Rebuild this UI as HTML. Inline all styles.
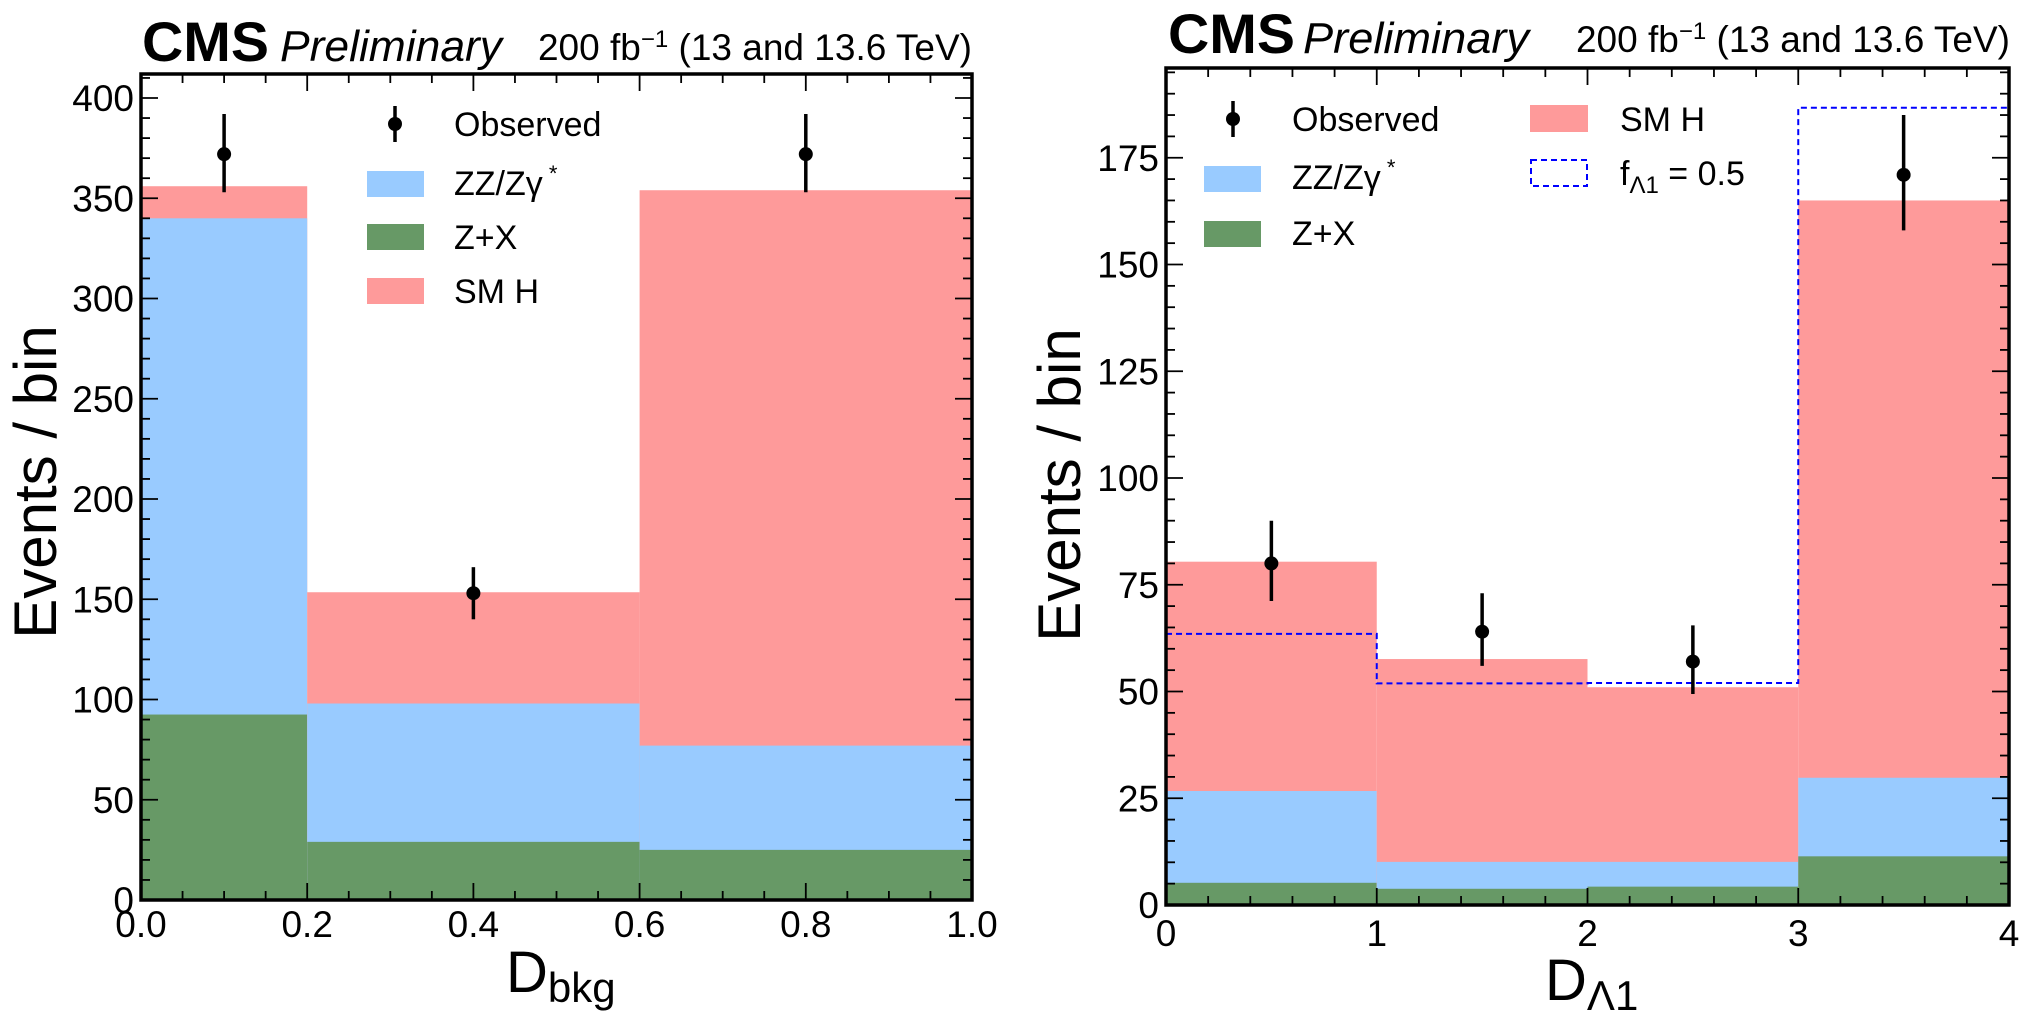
<!DOCTYPE html>
<html><head><meta charset="utf-8">
<style>
html,body{margin:0;padding:0;background:#fff;}
svg{display:block;font-family:"Liberation Sans",Arial,sans-serif;}
</style></head>
<body>
<svg id="chart" width="2032" height="1030" viewBox="0 0 2032 1030" xmlns="http://www.w3.org/2000/svg"></svg>
<script>
// ---- Left panel data (D_bkg) ----
const leftEdges = [0, 0.2, 0.6, 1.0];
const leftZX = [92.5, 29, 25];
const leftZZ = [340, 98, 77];
const leftTotal = [356, 153.5, 354];
const leftObsX = [0.1, 0.4, 0.8];
const leftObs = [372, 153, 372];
const leftObsLo = [353, 140, 353];
const leftObsHi = [392, 166, 392];
const leftXTicks = [0, 0.2, 0.4, 0.6, 0.8, 1.0];
const leftXTickLabels = ["0.0", "0.2", "0.4", "0.6", "0.8", "1.0"];
const leftYTicks = [0, 50, 100, 150, 200, 250, 300, 350, 400];

// ---- Right panel data (D_Lambda1) ----
const rightEdges = [0, 1, 2, 3, 4];
const rightZX = [5.2, 3.8, 4.3, 11.4];
const rightZZ = [26.7, 10.1, 10.1, 29.8];
const rightTotal = [80.4, 57.6, 51, 165];
const rightAlt = [63.5, 51.9, 52, 186.7];
const rightObsX = [0.5, 1.5, 2.5, 3.5];
const rightObs = [80, 64, 57, 171];
const rightObsLo = [71.2, 56, 49.4, 158];
const rightObsHi = [90, 73, 65.5, 185];
const rightXTicks = [0, 1, 2, 3, 4];
const rightXTickLabels = ["0", "1", "2", "3", "4"];
const rightYTicks = [0, 25, 50, 75, 100, 125, 150, 175];

const NS = "http://www.w3.org/2000/svg";
const svg = document.getElementById("chart");
const C_ZZ = "#99cbff", C_ZX = "#679966", C_H = "#fe9a9a";

function mk(tag, attrs, parent, text) {
  const e = document.createElementNS(NS, tag);
  for (const k in attrs) e.setAttribute(k, attrs[k]);
  if (text !== undefined) e.textContent = text;
  (parent || svg).appendChild(e);
  return e;
}

function panel(cfg) {
  const g = mk("g", {});
  
  
  const X = v => cfg.x0 + (v - cfg.xmin) / (cfg.xmax - cfg.xmin) * (cfg.x1 - cfg.x0);
  const Y = v => cfg.yb - (v - 0) * cfg.pxu;
  const nb = cfg.edges.length - 1;
  for (let i = 0; i < nb; i++) {
    const xa = X(cfg.edges[i]), xb = X(cfg.edges[i + 1]);
    const h = mk("rect", {x: xa, y: Y(cfg.total[i]), width: xb - xa, height: Y(0) - Y(cfg.total[i]), fill: C_H}, g);
    
    
    const z = mk("rect", {x: xa, y: Y(cfg.zz[i]), width: xb - xa, height: Y(0) - Y(cfg.zz[i]), fill: C_ZZ}, g);
    
    
    const q = mk("rect", {x: xa, y: Y(cfg.zx[i]), width: xb - xa, height: Y(0) - Y(cfg.zx[i]), fill: C_ZX}, g);
    
    
  }
  if (cfg.alt) {
    let d = "M" + X(cfg.edges[0]) + " " + Y(cfg.alt[0]);
    for (let i = 0; i < nb; i++) {
      d += " L" + X(cfg.edges[i + 1]) + " " + Y(cfg.alt[i]);
      if (i + 1 < nb) d += " L" + X(cfg.edges[i + 1]) + " " + Y(cfg.alt[i + 1]);
    }
    const p = mk("path", {d: d, fill: "none", stroke: "#0000ff", "stroke-width": 2, "stroke-dasharray": "6,4"}, g);
    
    
  }
  for (let i = 0; i < cfg.obs.length; i++) {
    const l = mk("line", {x1: X(cfg.obsX[i]), x2: X(cfg.obsX[i]), y1: Y(cfg.obsLo[i]), y2: Y(cfg.obsHi[i]), stroke: "#000", "stroke-width": 3.5}, g);
    
    
    const c = mk("circle", {cx: X(cfg.obsX[i]), cy: Y(cfg.obs[i]), r: 7, fill: "#000"}, g);
    
    
  }
  const tk = mk("g", {stroke: "#000", "stroke-width": 1.8}, g);
  
  
  for (let v = cfg.xmin; v <= cfg.xmax + 1e-9; v += cfg.xminor) {
    const isMaj = cfg.xticks.some(t => Math.abs(t - v) < 1e-6);
    const L = isMaj ? 17 : 9, xx = X(v);
    mk("line", {x1: xx, x2: xx, y1: cfg.yb, y2: cfg.yb - L}, tk);
    mk("line", {x1: xx, x2: xx, y1: cfg.yt, y2: cfg.yt + L}, tk);
  }
  for (let v = 0; Y(v) >= cfg.yt - 0.5; v += cfg.yminor) {
    const isMaj = cfg.yticks.some(t => Math.abs(t - v) < 1e-6);
    const L = isMaj ? 17 : 9, yy = Y(v);
    mk("line", {x1: cfg.x0, x2: cfg.x0 + L, y1: yy, y2: yy}, tk);
    mk("line", {x1: cfg.x1, x2: cfg.x1 - L, y1: yy, y2: yy}, tk);
  }
  const fr = mk("rect", {x: cfg.x0, y: cfg.yt, width: cfg.x1 - cfg.x0, height: cfg.yb - cfg.yt, fill: "none", stroke: "#000", "stroke-width": 3.5}, g);
  
  
  for (let i = 0; i < cfg.xticks.length; i++) {
    const t = mk("text", {x: X(cfg.xticks[i]), y: cfg.xlabY, "font-size": 37, "text-anchor": "middle"}, g, cfg.xlabels[i]);
    
    
  }
  for (let i = 0; i < cfg.yticks.length; i++) {
    const t = mk("text", {x: cfg.x0 - 7, y: Y(cfg.yticks[i]) + 13, "font-size": 37, "text-anchor": "end"}, g, String(cfg.yticks[i]));
    
    
  }
  return {X, Y, g};
}

panel({name: "left-panel", x0: 141, x1: 972, yt: 74, yb: 900, pxu: 2.005, xmin: 0, xmax: 1,
  edges: leftEdges, zx: leftZX, zz: leftZZ, total: leftTotal, obsX: leftObsX, obs: leftObs, obsLo: leftObsLo, obsHi: leftObsHi,
  xticks: leftXTicks, xlabels: leftXTickLabels, xminor: 0.05, yticks: leftYTicks, yminor: 10, xlabY: 937});
panel({name: "right-panel", x0: 1166, x1: 2009, yt: 68, yb: 905, pxu: 4.27, xmin: 0, xmax: 4,
  edges: rightEdges, zx: rightZX, zz: rightZZ, total: rightTotal, alt: rightAlt, obsX: rightObsX, obs: rightObs, obsLo: rightObsLo, obsHi: rightObsHi,
  xticks: rightXTicks, xlabels: rightXTickLabels, xminor: 0.2, yticks: rightYTicks, yminor: 5, xlabY: 946});
</script>

<svg style="position:absolute;left:0;top:0" width="2032" height="1030" xmlns="http://www.w3.org/2000/svg" font-family="Liberation Sans, Arial, sans-serif">
  <text x="142" y="61" font-size="56" font-weight="bold" textLength="127" lengthAdjust="spacingAndGlyphs">CMS</text>
  <text x="280" y="61" font-size="44" font-style="italic" textLength="222" lengthAdjust="spacingAndGlyphs">Preliminary</text>
  <text x="972" y="60" font-size="37" text-anchor="end">200 fb<tspan dy="-13" font-size="24">−1</tspan><tspan dy="13"> (13 and 13.6 TeV)</tspan></text>
  <text x="1168" y="53" font-size="56" font-weight="bold" textLength="127" lengthAdjust="spacingAndGlyphs">CMS</text>
  <text x="1303" y="53" font-size="44" font-style="italic" textLength="226" lengthAdjust="spacingAndGlyphs">Preliminary</text>
  <text x="2010" y="52" font-size="37" text-anchor="end">200 fb<tspan dy="-13" font-size="24">−1</tspan><tspan dy="13"> (13 and 13.6 TeV)</tspan></text>

  <text transform="translate(56,482) rotate(-90)" font-size="60" text-anchor="middle">Events / bin</text>
  <text transform="translate(1080,485) rotate(-90)" font-size="60" text-anchor="middle">Events / bin</text>
  <text x="506" y="992" font-size="58">D<tspan font-size="42" dy="10">bkg</tspan></text>
  <text x="1545" y="1000" font-size="58">D<tspan font-size="42" dy="10">Λ1</tspan></text>

  <g>
    <line x1="395" x2="395" y1="106" y2="142" stroke="#000" stroke-width="3.5"/>
    <circle cx="395" cy="124" r="7" fill="#000"/>
    <text x="454" y="136" font-size="34">Observed</text>
    <rect x="367" y="171" width="57" height="26" fill="#99cbff"/>
    <text x="454" y="195" font-size="34">ZZ/Zγ<tspan dy="-14" font-size="22"> *</tspan></text>
    <rect x="367" y="224" width="57" height="26" fill="#679966"/>
    <text x="454" y="249" font-size="34">Z+X</text>
    <rect x="367" y="278" width="57" height="26" fill="#fe9a9a"/>
    <text x="454" y="303" font-size="34">SM H</text>
  </g>
  <g>
    <line x1="1233" x2="1233" y1="101" y2="137" stroke="#000" stroke-width="3.5"/>
    <circle cx="1233" cy="119" r="7" fill="#000"/>
    <text x="1292" y="131" font-size="34">Observed</text>
    <rect x="1204" y="166" width="57" height="26" fill="#99cbff"/>
    <text x="1292" y="189" font-size="34">ZZ/Zγ<tspan dy="-14" font-size="22"> *</tspan></text>
    <rect x="1204" y="221" width="57" height="26" fill="#679966"/>
    <text x="1292" y="245" font-size="34">Z+X</text>
    <rect x="1530" y="105" width="58" height="27" fill="#fe9a9a"/>
    <text x="1620" y="131" font-size="34">SM H</text>
    <rect x="1531" y="160" width="56" height="26" fill="none" stroke="#0000ff" stroke-width="2" stroke-dasharray="6,4"/>
    <text x="1620" y="185" font-size="34">f<tspan font-size="24" dy="8">Λ1</tspan><tspan dy="-8"> = 0.5</tspan></text>
  </g>
</svg>
</body></html>
